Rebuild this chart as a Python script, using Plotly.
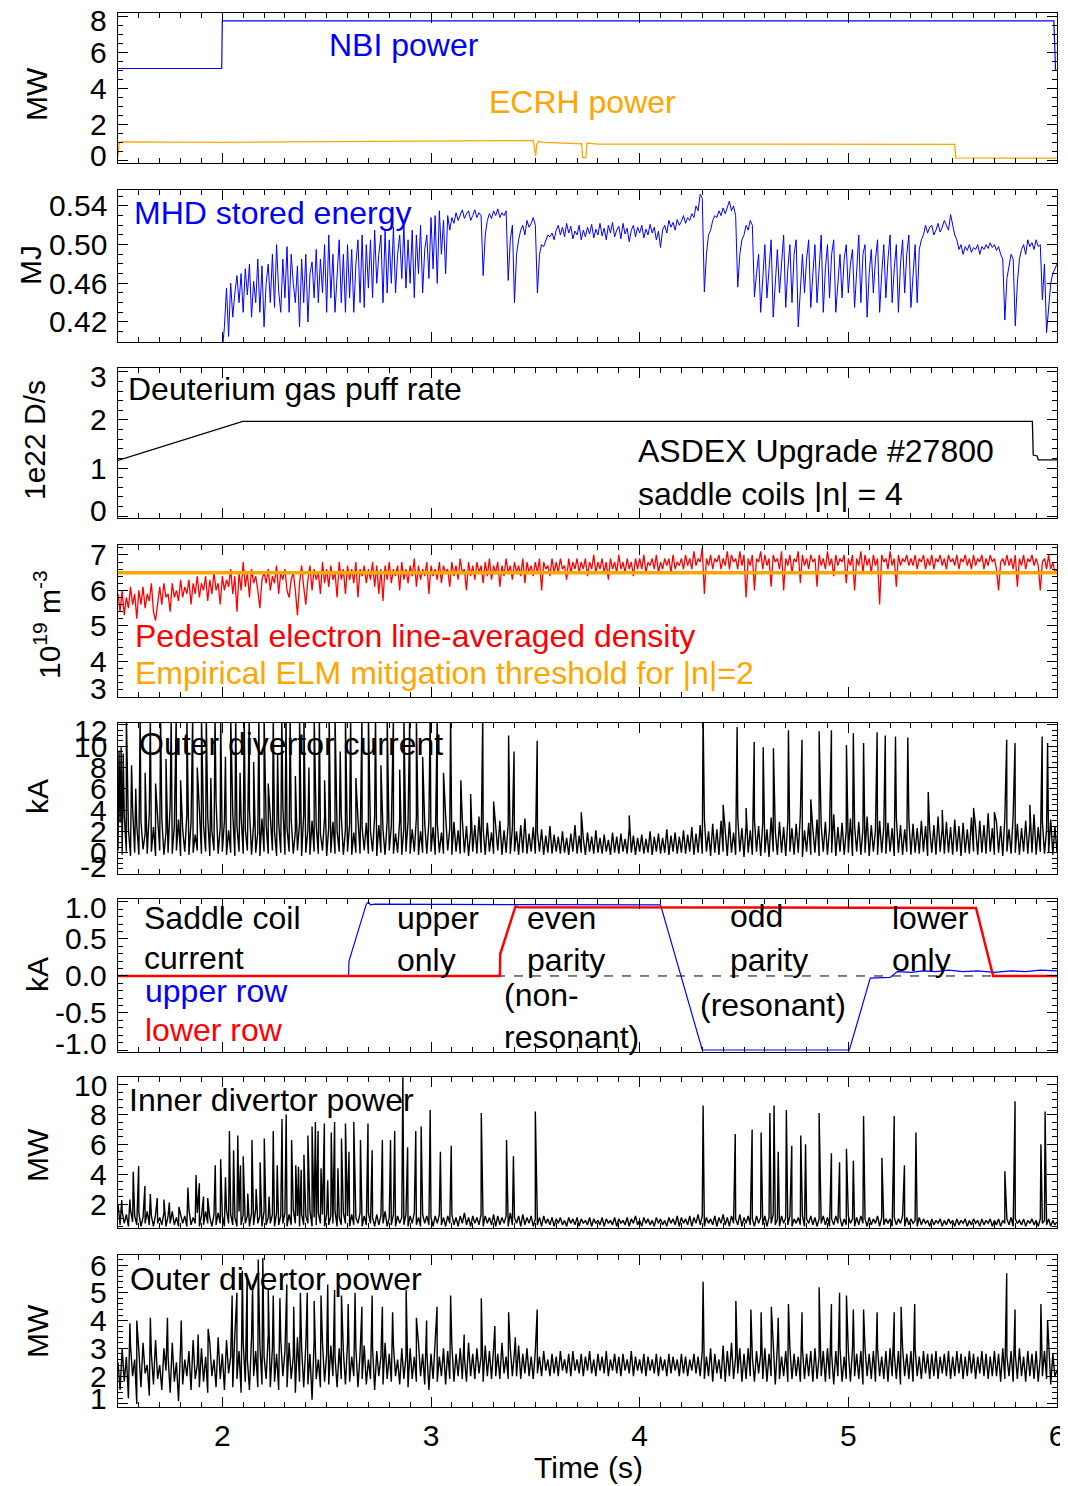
import numpy as np
import plotly.graph_objects as go

FONT = "Liberation Sans, Arial, Helvetica, sans-serif"
T0, DT = 1.5, 0.01   # sampling of the digitised noisy signals (s)

# ---------------- panel 1: heating power (MW) ----------------
NBI_T = [1.5, 1.997, 2.0, 5.985, 5.993, 6.0]
NBI_V = [5.1, 5.1, 7.75, 7.75, 5.0, 5.0]
EC_T = [1.5, 1.505, 1.51, 2.0, 2.5, 3.0, 3.49, 3.502, 3.506, 3.515, 3.54, 3.70, 3.722, 3.727, 3.742, 3.748, 3.80, 4.5, 5.0, 5.51, 5.515, 6.0]
EC_V = [0.2, 0.9, 1.02, 1.0, 1.04, 1.08, 1.1, 0.25, 0.85, 1.05, 1.0, 0.93, 0.92, 0.15, 0.15, 0.96, 0.9, 0.9, 0.89, 0.88, 0.13, 0.12]

# ---------------- panel 2: MHD stored energy (MJ), one row = 0.1 s ----------------
W_MHD = [
    0.37, 0.37, 0.37, 0.37, 0.37, 0.37, 0.37, 0.37, 0.37, 0.37,   # 1.5
    0.37, 0.37, 0.37, 0.37, 0.37, 0.37, 0.37, 0.37, 0.37, 0.37,   # 1.6
    0.37, 0.37, 0.37, 0.37, 0.37, 0.37, 0.37, 0.37, 0.37, 0.37,   # 1.7
    0.37, 0.37, 0.37, 0.37, 0.37, 0.37, 0.37, 0.37, 0.37, 0.37,   # 1.8
    0.37, 0.37, 0.37, 0.37, 0.37, 0.38, 0.38, 0.38, 0.38, 0.38,   # 1.9
    0.39, 0.415, 0.455, 0.405, 0.46, 0.425, 0.45, 0.468, 0.44, 0.47,    # 2.0
    0.43, 0.475, 0.448, 0.48, 0.425, 0.462, 0.44, 0.485, 0.43, 0.478,   # 2.1
    0.415, 0.46, 0.48, 0.44, 0.49, 0.435, 0.50, 0.452, 0.43, 0.485,     # 2.2
    0.445, 0.498, 0.43, 0.49, 0.46, 0.44, 0.478, 0.415, 0.485, 0.44,    # 2.3
    0.49, 0.42, 0.47, 0.482, 0.445, 0.495, 0.44, 0.485, 0.45, 0.50,     # 2.4
    0.43, 0.51, 0.445, 0.49, 0.43, 0.47, 0.505, 0.44, 0.49, 0.43,       # 2.5
    0.50, 0.445, 0.495, 0.43, 0.48, 0.505, 0.44, 0.51, 0.435, 0.50,     # 2.6
    0.455, 0.505, 0.445, 0.515, 0.46, 0.49, 0.51, 0.44, 0.515, 0.45,    # 2.7
    0.505, 0.46, 0.518, 0.45, 0.49, 0.51, 0.465, 0.52, 0.455, 0.505,    # 2.8
    0.46, 0.515, 0.445, 0.51, 0.47, 0.52, 0.45, 0.495, 0.51, 0.465,     # 2.9
    0.528, 0.475, 0.53, 0.46, 0.535, 0.49, 0.525, 0.47, 0.53, 0.515,    # 3.0
    0.528, 0.522, 0.533, 0.525, 0.53, 0.536, 0.527, 0.532, 0.535, 0.525,  # 3.1
    0.53, 0.536, 0.528, 0.533, 0.53, 0.468, 0.51, 0.525, 0.532, 0.527,    # 3.2
    0.535, 0.53, 0.537, 0.528, 0.533, 0.53, 0.535, 0.463, 0.505, 0.52,    # 3.3
    0.44, 0.49, 0.505, 0.515, 0.52, 0.51, 0.525, 0.518, 0.522, 0.528,     # 3.4
    0.52, 0.45, 0.49, 0.50, 0.498, 0.505, 0.51, 0.508, 0.512, 0.505,      # 3.5
    0.515, 0.52, 0.51, 0.518, 0.508, 0.522, 0.512, 0.519, 0.506, 0.514,   # 3.6
    0.51, 0.52, 0.505, 0.515, 0.508, 0.518, 0.511, 0.521, 0.507, 0.516,   # 3.7
    0.51, 0.522, 0.509, 0.517, 0.505, 0.52, 0.512, 0.523, 0.508, 0.515,   # 3.8
    0.519, 0.506, 0.522, 0.511, 0.517, 0.503, 0.515, 0.52, 0.508, 0.518,  # 3.9
    0.512, 0.52, 0.507, 0.516, 0.51, 0.521, 0.512, 0.518, 0.505, 0.514,   # 4.0
    0.497, 0.515, 0.52, 0.512, 0.525, 0.518, 0.523, 0.515, 0.526, 0.52,   # 4.1
    0.524, 0.53, 0.522, 0.528, 0.525, 0.532, 0.528, 0.54, 0.535, 0.552,   # 4.2
    0.548, 0.451, 0.49, 0.51, 0.515, 0.525, 0.53, 0.528, 0.535, 0.53,     # 4.3
    0.538, 0.532, 0.54, 0.545, 0.535, 0.54, 0.53, 0.456, 0.49, 0.505,     # 4.4
    0.51, 0.52, 0.515, 0.525, 0.52, 0.446, 0.47, 0.49, 0.43, 0.47,        # 4.5
    0.50, 0.445, 0.48, 0.505, 0.425, 0.465, 0.495, 0.45, 0.485, 0.51,     # 4.6
    0.435, 0.475, 0.50, 0.44, 0.49, 0.505, 0.415, 0.46, 0.49, 0.45,       # 4.7
    0.485, 0.505, 0.435, 0.47, 0.50, 0.44, 0.48, 0.51, 0.43, 0.475,      # 4.8
    0.50, 0.445, 0.49, 0.505, 0.43, 0.465, 0.49, 0.445, 0.485, 0.50,      # 4.9
    0.45, 0.48, 0.495, 0.435, 0.475, 0.51, 0.44, 0.49, 0.50, 0.425,       # 5.0
    0.47, 0.495, 0.45, 0.485, 0.505, 0.43, 0.47, 0.50, 0.445, 0.485,      # 5.1
    0.51, 0.44, 0.475, 0.50, 0.43, 0.48, 0.505, 0.45, 0.49, 0.51,         # 5.2
    0.435, 0.47, 0.50, 0.44, 0.495, 0.505, 0.51, 0.52, 0.512, 0.518,      # 5.3
    0.52, 0.51, 0.515, 0.522, 0.513, 0.518, 0.525, 0.52, 0.515, 0.531,    # 5.4
    0.522, 0.51, 0.505, 0.495, 0.50, 0.49, 0.498, 0.494, 0.50, 0.492,     # 5.5
    0.497, 0.495, 0.50, 0.49, 0.498, 0.495, 0.50, 0.496, 0.502, 0.497,    # 5.6
    0.50, 0.494, 0.498, 0.49, 0.485, 0.422, 0.465, 0.48, 0.49, 0.485,     # 5.7
    0.416, 0.46, 0.485, 0.495, 0.50, 0.49, 0.505, 0.498, 0.502, 0.495,    # 5.8
    0.505, 0.498, 0.50, 0.443, 0.48, 0.409, 0.44, 0.46, 0.47, 0.475,      # 5.9
    0.48,
]

# ---------------- panel 3: gas puff (1e22 D/s) ----------------
GAS_T = [1.5, 2.098, 5.882, 5.886, 5.905, 5.91, 6.0]
GAS_V = [1.16, 1.97, 1.97, 1.27, 1.25, 1.17, 1.17]

# ---------------- panel 4: pedestal density (1e19 m^-3) ----------------
NE = [
    5.9, 5.4, 6.0, 5.3, 5.8, 5.5, 6.1, 5.6, 5.9, 5.2,   # 1.5
    6.0, 5.6, 6.1, 5.5, 5.9, 5.7, 6.2, 5.4, 5.15, 5.7,  # 1.6
    6.1, 5.6, 6.2, 5.8, 5.9, 5.4, 6.2, 5.8, 6.0, 5.7,   # 1.7
    6.3, 5.8, 6.1, 5.9, 6.3, 5.6, 6.2, 5.9, 6.4, 5.8,   # 1.8
    6.2, 6.0, 6.4, 5.7, 6.3, 5.9, 6.5, 6.0, 6.2, 5.6,   # 1.9
    6.4, 6.0, 6.3, 6.1, 6.6, 5.9, 6.4, 5.4, 6.5, 6.0,   # 2.0
    6.8, 6.1, 6.5, 5.8, 6.6, 6.2, 6.4, 6.0, 5.5, 6.3,   # 2.1
    6.5, 6.2, 6.6, 6.0, 6.4, 6.2, 6.7, 5.9, 6.5, 6.3,   # 2.2
    6.6, 6.0, 5.8, 6.3, 6.5, 6.0, 5.3, 6.2, 6.7, 6.1,   # 2.3
    5.6, 6.3, 6.7, 6.0, 6.6, 6.3, 6.5, 5.9, 6.8, 6.2,   # 2.4
    6.6, 6.1, 6.7, 6.3, 6.5, 5.8, 6.8, 6.3, 6.6, 5.9,   # 2.5
    6.7, 6.3, 6.6, 6.2, 6.8, 5.8, 6.6, 6.4, 6.7, 6.2,   # 2.6
    6.6, 6.3, 6.8, 6.1, 6.7, 5.9, 6.6, 5.7, 6.7, 6.3,   # 2.7
    6.8, 6.2, 6.6, 6.4, 6.7, 6.0, 6.8, 6.3, 6.6, 6.2,   # 2.8
    6.7, 6.4, 6.9, 6.1, 6.7, 6.3, 6.6, 6.4, 6.8, 5.9,   # 2.9
    6.7, 6.4, 6.6, 6.3, 6.8, 6.2, 6.7, 6.5, 6.6, 6.1,   # 3.0
    6.8, 6.4, 6.7, 6.3, 6.9, 6.5, 6.6, 6.0, 6.8, 6.4,   # 3.1
    6.7, 6.3, 6.8, 6.5, 6.7, 6.2, 6.8, 6.4, 6.9, 6.3,   # 3.2
    6.7, 6.5, 6.8, 6.1, 6.7, 6.4, 6.9, 6.5, 6.7, 6.3,   # 3.3
    6.8, 6.5, 6.7, 6.4, 6.9, 6.2, 6.8, 6.5, 6.7, 6.4,   # 3.4
    6.8, 6.5, 6.9, 6.0, 6.8, 6.6, 6.7, 6.4, 6.9, 6.5,   # 3.5
    6.8, 6.5, 6.9, 6.6, 6.7, 6.3, 6.9, 6.5, 6.8, 6.6,   # 3.6
    6.9, 6.5, 6.8, 6.6, 6.9, 6.4, 6.8, 6.6, 7.0, 6.5,   # 3.7
    6.8, 6.6, 6.9, 6.5, 6.8, 6.3, 6.9, 6.6, 6.8, 6.5,   # 3.8
    7.0, 6.6, 6.8, 6.5, 6.9, 6.6, 6.8, 6.4, 6.9, 6.6,   # 3.9
    6.9, 6.6, 7.0, 6.5, 6.8, 6.7, 6.9, 6.6, 7.0, 6.5,   # 4.0
    6.8, 6.6, 6.9, 6.7, 6.9, 6.5, 7.0, 6.6, 6.8, 6.7,   # 4.1
    6.9, 6.6, 7.0, 6.7, 6.9, 6.6, 7.1, 6.7, 6.9, 6.8,   # 4.2
    7.2, 5.9, 6.9, 6.7, 7.0, 6.6, 6.9, 6.8, 7.0, 6.6,   # 4.3
    6.9, 6.7, 7.1, 6.6, 7.0, 6.8, 6.9, 6.6, 7.1, 6.7,   # 4.4
    7.0, 5.8, 6.9, 6.7, 7.0, 6.0, 6.9, 6.8, 7.1, 6.6,   # 4.5
    7.0, 6.7, 6.9, 6.1, 7.0, 6.8, 6.9, 6.6, 7.1, 6.0,   # 4.6
    6.9, 6.7, 7.0, 6.5, 6.9, 6.8, 7.1, 6.2, 7.0, 6.7,   # 4.7
    6.9, 6.6, 7.0, 6.8, 6.9, 6.1, 7.0, 6.7, 6.9, 6.6,   # 4.8
    7.1, 6.7, 6.9, 6.4, 7.0, 6.7, 6.9, 6.8, 7.0, 6.2,   # 4.9
    6.9, 6.7, 7.0, 6.0, 6.9, 6.7, 7.1, 6.5, 7.0, 6.7,   # 5.0
    6.9, 6.5, 7.0, 6.7, 6.9, 5.6, 7.0, 6.8, 6.9, 6.6,   # 5.1
    7.1, 6.7, 6.9, 6.1, 7.0, 6.7, 6.9, 6.8, 7.0, 6.7,   # 5.2
    6.9, 6.7, 7.0, 6.6, 6.9, 6.8, 7.0, 6.6, 6.9, 6.7,   # 5.3
    7.0, 6.6, 6.9, 6.8, 7.0, 6.7, 6.9, 6.6, 7.0, 6.8,   # 5.4
    6.9, 6.7, 7.0, 6.6, 6.9, 6.8, 7.0, 6.7, 6.9, 6.6,   # 5.5
    7.0, 6.7, 6.9, 6.8, 7.0, 6.6, 6.9, 6.7, 7.0, 6.8,   # 5.6
    6.9, 6.6, 6.0, 6.8, 6.9, 6.7, 7.0, 6.7, 6.9, 6.6,   # 5.7
    7.0, 6.1, 6.9, 6.7, 7.0, 6.6, 6.9, 6.8, 7.0, 6.7,   # 5.8
    6.9, 6.7, 6.0, 6.8, 6.9, 6.6, 7.0, 6.6, 6.8, 6.5,   # 5.9
    6.6,
]
TH_T = [1.5, 6.0]
TH_V = [6.5, 6.5]

# ---------------- panel 5: outer divertor current (kA) ----------------
CUR = [
    0.2, 2.8, -0.2, 3.5, 0.1, 2.2, -0.3, 4.2, 0.0, 2.6,   # 1.5
    -0.2, 3.0, 0.3, 1.8, -0.1, 3.8, 0.1, 2.4, -0.3, 2.9,  # 1.6
    0.2, 3.2, -0.2, 1.9, 0.0, 4.5, -0.1, 2.5, 0.2, 3.1,   # 1.7
    -0.3, 2.2, 0.1, 3.6, -0.2, 2.8, 0.0, 1.7, 0.2, 4.0,   # 1.8
    -0.1, 2.6, 0.1, 3.3, -0.3, 2.0, 0.2, 4.8, -0.1, 2.4,  # 1.9
    0.1, 3.0, -0.2, 2.1, 0.0, 3.7, -0.3, 2.5, 0.1, 3.4,   # 2.0
    -0.1, 2.2, 0.2, 4.1, -0.2, 2.7, 0.0, 1.9, -0.3, 3.2,  # 2.1
    0.1, 2.6, -0.1, 3.5, 0.2, 2.0, -0.3, 2.9, 0.0, 4.4,   # 2.2
    -0.2, 2.3, 0.1, 3.1, -0.1, 2.0, 0.2, 2.8, -0.3, 3.6,  # 2.3
    0.0, 2.1, -0.2, 3.0, 0.1, 2.5, -0.1, 1.8, 0.2, 3.3,   # 2.4
    -0.3, 2.4, 0.0, 2.9, -0.1, 2.0, 0.1, 3.5, -0.2, 2.2,  # 2.5
    0.1, 2.7, -0.2, 1.9, 0.0, 3.2, -0.1, 2.4, 0.2, 2.8,   # 2.6
    -0.1, 2.0, 0.1, 3.4, -0.3, 2.6, 0.0, 2.1, -0.2, 3.0,  # 2.7
    0.2, 2.5, -0.1, 1.8, 0.0, 3.1, -0.2, 2.3, 0.1, 2.9,   # 2.8
    -0.1, 2.2, 0.1, 3.3, -0.2, 2.0, 0.0, 2.7, -0.1, 3.0,  # 2.9
    0.1, 2.4, -0.2, 2.8, 0.0, 1.9, -0.1, 3.5, 0.2, 2.3,   # 3.0
    -0.2, 2.9, 0.1, 2.1, -0.1, 3.1, 0.0, 2.5, -0.3, 2.0,  # 3.1
    0.1, 2.6, -0.1, 3.4, 0.0, 2.2, -0.2, 2.8, 0.1, 1.9,   # 3.2
    -0.1, 2.4, 0.2, 3.0, -0.2, 2.1, 0.0, 2.7, -0.1, 2.3,  # 3.3
    0.1, 2.0, -0.2, 2.6, 0.0, 3.2, -0.1, 1.8, 0.1, 2.4,   # 3.4
    -0.1, 1.9, 0.1, 2.2, -0.2, 1.6, 0.0, 2.5, -0.1, 1.7,  # 3.5
    0.1, 1.5, -0.1, 2.0, 0.0, 1.4, -0.2, 1.8, 0.1, 2.6,   # 3.6
    -0.1, 1.6, 0.0, 1.3, -0.2, 1.9, 0.1, 1.5, -0.1, 2.1,  # 3.7
    0.0, 1.4, -0.1, 1.7, 0.1, 1.2, -0.2, 1.9, 0.0, 1.5,   # 3.8
    -0.1, 1.8, 0.1, 1.3, -0.1, 2.3, 0.0, 1.6, -0.2, 1.4,  # 3.9
    0.1, 1.7, -0.1, 1.3, 0.0, 2.0, -0.2, 1.5, 0.1, 1.8,   # 4.0
    -0.1, 1.4, 0.0, 2.2, -0.2, 1.6, 0.1, 1.9, -0.1, 1.5,  # 4.1
    0.0, 2.1, -0.1, 1.7, 0.1, 2.4, -0.2, 1.8, 0.0, 2.6,   # 4.2
    -0.1, 3.2, 0.1, 2.0, -0.3, 2.7, 0.0, 2.2, -0.2, 3.0,  # 4.3
    0.1, 2.4, -0.3, 2.9, 0.0, 1.9, -0.2, 3.4, 0.1, 2.3,   # 4.4
    -0.4, 2.6, 0.0, 2.1, -0.2, 3.1, 0.1, 2.5, -0.3, 2.8,  # 4.5
    0.0, 2.2, -0.4, 3.3, 0.1, 2.0, -0.2, 2.9, 0.0, 2.4,   # 4.6
    -0.3, 3.0, 0.1, 2.3, -0.2, 2.7, 0.0, 3.5, -0.4, 2.1,  # 4.7
    0.1, 2.8, -0.2, 2.2, 0.0, 3.1, -0.3, 2.5, 0.1, 2.9,   # 4.8
    -0.2, 2.3, 0.0, 3.6, -0.3, 2.4, 0.1, 2.8, -0.2, 2.1,  # 4.9
    0.0, 3.2, -0.3, 2.5, 0.1, 2.9, -0.2, 2.2, 0.0, 3.4,   # 5.0
    -0.3, 2.6, 0.1, 2.1, -0.2, 3.0, 0.0, 2.4, -0.1, 2.8,  # 5.1
    0.1, 2.3, -0.3, 3.3, 0.0, 2.6, -0.2, 2.2, 0.1, 3.1,   # 5.2
    -0.2, 2.7, 0.0, 2.3, -0.1, 3.0, 0.1, 2.5, -0.3, 2.2,  # 5.3
    0.0, 2.6, -0.2, 3.4, 0.1, 2.3, -0.1, 2.9, 0.0, 2.4,   # 5.4
    -0.2, 3.1, 0.1, 2.5, -0.3, 2.8, 0.0, 2.2, -0.1, 3.3,  # 5.5
    0.1, 2.4, -0.2, 3.0, 0.0, 2.6, -0.1, 3.7, 0.1, 2.3,   # 5.6
    -0.2, 2.9, 0.0, 2.5, -0.3, 3.2, 0.1, 2.2, -0.1, 3.5,  # 5.7
    0.0, 2.7, -0.2, 2.3, 0.1, 3.0, -0.1, 2.6, 0.0, 3.6,   # 5.8
    -0.2, 2.4, 0.1, 2.9, -0.1, 2.2, 0.0, 3.1, -0.2, 2.5,  # 5.9
    0.0,
]
CUR_SPIKE_T = [1.505, 1.515, 1.525, 1.54, 1.565, 1.585, 1.606, 1.63, 1.655, 1.68,
               1.704, 1.73, 1.755, 1.779, 1.80, 1.83, 1.858, 1.88, 1.90, 1.923,
               1.945, 1.965, 1.992, 2.015, 2.04, 2.064, 2.085, 2.105, 2.129, 2.15,
               2.175, 2.20, 2.22, 2.244, 2.265, 2.285, 2.305, 2.325, 2.35, 2.37,
               2.391, 2.415, 2.44, 2.465, 2.49, 2.512, 2.54, 2.565, 2.59, 2.615,
               2.64, 2.669, 2.70, 2.734, 2.76, 2.79, 2.82, 2.85, 2.87, 2.898,
               2.93, 2.96, 2.996, 3.03, 3.06, 3.094, 3.143, 3.19, 3.248, 3.30,
               3.372, 3.398, 3.509, 3.72, 3.95, 4.304, 4.40, 4.467, 4.51, 4.549,
               4.592, 4.641, 4.713, 4.778, 4.82, 4.86, 4.919, 4.991, 5.024, 5.073,
               5.138, 5.177, 5.226, 5.285, 5.383, 5.45, 5.60, 5.70, 5.759, 5.799,
               5.87, 5.929, 5.955]
CUR_SPIKE_V = [9.6, 9.9, 9.3, 13, 8.2, 6, 13, 7.5, 13, 6.5,
               13, 8.8, 13, 13, 6.8, 13, 13, 8, 13, 13,
               7, 13, 13, 9, 13, 13, 7.5, 13, 13, 8.5,
               13, 13, 6.5, 13, 9.2, 13, 13, 13, 7.2, 13,
               13, 8, 13, 13, 6.8, 13, 13, 9.5, 13, 13,
               7, 13, 13, 13, 8.2, 13, 13, 7.8, 13, 13,
               13, 9, 13, 13, 7.5, 13, 6.8, 5.5, 13, 4.8,
               11.0, 9.5, 10.5, 3.8, 3.5, 13, 4.5, 11.8, 4.2, 10.4,
               9.9, 9.8, 11.5, 10.6, 5.0, 11.4, 11.5, 10.1, 11.2, 10.3,
               11.3, 11.0, 10.9, 10.8, 5.7, 4.0, 4.2, 3.8, 10.6, 10.3,
               4.5, 10.9, 10.3]

# ---------------- panel 6: saddle coil current (kA) ----------------
UP_T = [1.5, 2.605, 2.607, 2.69, 2.70, 2.71, 2.73, 3.5, 4.10, 4.30,
        4.31, 5.005, 5.105, 5.20, 5.235, 5.30, 5.36, 5.42, 5.48, 5.55,
        5.62, 5.70, 5.78, 5.85, 5.92, 6.0]
UP_V = [0, 0, 0.2, 0.97, 1.0, 0.96, 0.97, 0.96, 0.96, -1.0,
        -1.0, -1.0, -0.03, -0.02, 0.06, 0.05, 0.07, 0.06, 0.08, 0.06,
        0.07, 0.05, 0.07, 0.06, 0.08, 0.07]
LO_T = [1.5, 3.33, 3.332, 3.405, 3.42, 4.10, 4.15, 5.612, 5.694, 6.0]
LO_V = [0, 0, 0.3, 0.94, 0.93, 0.93, 0.92, 0.92, 0.0, 0.0]
ZERO_T = [1.5, 6.0]
ZERO_V = [0.0, 0.0]

# ---------------- panel 7: inner divertor power (MW) ----------------
PIN = [
    2.0, 0.6, 1.5, 0.7, 1.3, 0.5, 1.6, 0.8, 1.2, 0.6,   # 1.5
    1.4, 0.5, 1.1, 0.7, 1.5, 0.6, 1.2, 0.5, 1.3, 0.7,   # 1.6
    1.1, 0.6, 1.4, 0.5, 1.2, 0.7, 1.5, 0.6, 1.1, 0.5,   # 1.7
    1.3, 0.7, 1.2, 0.5, 1.6, 0.6, 1.1, 0.7, 1.4, 0.5,   # 1.8
    1.2, 0.6, 1.5, 0.7, 1.1, 0.5, 1.3, 0.6, 1.4, 0.7,   # 1.9
    1.2, 0.5, 1.6, 0.7, 1.3, 0.6, 1.1, 0.5, 1.5, 0.6,   # 2.0
    1.3, 0.7, 1.2, 0.5, 1.4, 0.6, 1.7, 0.7, 1.2, 0.5,   # 2.1
    1.5, 0.6, 1.1, 0.7, 1.3, 0.5, 1.4, 0.6, 1.2, 0.7,   # 2.2
    1.4, 0.5, 1.3, 0.6, 1.6, 0.7, 1.2, 0.5, 1.3, 0.6,   # 2.3
    1.2, 0.7, 1.5, 0.5, 1.1, 0.6, 1.4, 0.7, 1.3, 0.5,   # 2.4
    1.3, 0.6, 1.2, 0.7, 1.5, 0.5, 1.1, 0.6, 1.4, 0.7,   # 2.5
    1.2, 0.5, 1.3, 0.6, 1.1, 0.7, 1.4, 0.5, 1.2, 0.6,   # 2.6
    1.4, 0.7, 1.1, 0.5, 1.3, 0.6, 1.2, 0.7, 1.5, 0.5,   # 2.7
    1.1, 0.6, 1.3, 0.5, 1.2, 0.7, 1.1, 0.6, 1.3, 0.5,   # 2.8
    1.2, 0.7, 1.4, 0.6, 1.1, 0.5, 1.3, 0.7, 1.2, 0.6,   # 2.9
    1.1, 0.5, 1.2, 0.7, 1.3, 0.6, 1.1, 0.5, 1.2, 0.7,   # 3.0
    1.3, 0.6, 1.1, 0.5, 1.2, 0.7, 1.4, 0.6, 1.1, 0.5,   # 3.1
    1.2, 0.7, 1.1, 0.6, 1.3, 0.5, 1.2, 0.7, 1.1, 0.6,   # 3.2
    1.3, 0.5, 1.2, 0.6, 1.1, 0.7, 1.2, 0.5, 1.4, 0.6,   # 3.3
    1.1, 0.7, 1.2, 0.5, 1.3, 0.6, 1.1, 0.7, 1.2, 0.5,   # 3.4
    1.0, 0.6, 1.1, 0.5, 1.2, 0.7, 1.0, 0.6, 1.1, 0.5,   # 3.5
    1.0, 0.7, 1.1, 0.6, 0.9, 0.5, 1.1, 0.7, 1.0, 0.6,   # 3.6
    1.1, 0.5, 1.0, 0.7, 0.9, 0.6, 1.1, 0.5, 1.0, 0.7,   # 3.7
    0.9, 0.6, 1.1, 0.5, 1.0, 0.7, 0.9, 0.6, 1.1, 0.5,   # 3.8
    1.0, 0.7, 0.9, 0.6, 1.1, 0.5, 1.0, 0.7, 1.2, 0.6,   # 3.9
    0.9, 0.5, 1.1, 0.7, 1.0, 0.6, 0.9, 0.5, 1.1, 0.7,   # 4.0
    1.0, 0.6, 0.9, 0.5, 1.1, 0.7, 1.0, 0.6, 1.2, 0.5,   # 4.1
    1.1, 0.7, 1.0, 0.6, 1.2, 0.5, 1.1, 0.7, 1.3, 0.6,   # 4.2
    1.2, 0.5, 1.1, 0.7, 1.0, 0.6, 1.2, 0.5, 1.1, 0.7,   # 4.3
    1.3, 0.6, 1.1, 0.5, 1.2, 0.7, 1.0, 0.6, 1.3, 0.5,   # 4.4
    1.1, 0.7, 1.2, 0.6, 1.0, 0.5, 1.2, 0.7, 1.1, 0.6,   # 4.5
    1.2, 0.5, 1.1, 0.7, 1.3, 0.6, 1.0, 0.5, 1.2, 0.7,   # 4.6
    1.1, 0.6, 1.2, 0.5, 1.0, 0.7, 1.1, 0.6, 1.2, 0.5,   # 4.7
    1.0, 0.7, 1.2, 0.6, 1.1, 0.5, 1.0, 0.7, 1.2, 0.6,   # 4.8
    1.1, 0.5, 1.0, 0.6, 1.2, 0.7, 1.1, 0.5, 1.0, 0.6,   # 4.9
    1.2, 0.7, 1.0, 0.5, 1.1, 0.6, 1.2, 0.7, 1.0, 0.5,   # 5.0
    1.1, 0.6, 1.0, 0.7, 1.2, 0.5, 1.1, 0.6, 1.0, 0.7,   # 5.1
    1.0, 0.5, 1.1, 0.6, 1.0, 0.7, 1.2, 0.5, 1.1, 0.6,   # 5.2
    1.0, 0.7, 0.9, 0.5, 1.1, 0.6, 1.0, 0.7, 0.9, 0.5,   # 5.3
    1.0, 0.6, 0.9, 0.7, 1.0, 0.5, 0.9, 0.6, 1.0, 0.7,   # 5.4
    0.9, 0.5, 1.0, 0.6, 0.9, 0.7, 1.0, 0.5, 0.9, 0.6,   # 5.5
    1.0, 0.7, 0.9, 0.5, 1.0, 0.6, 0.9, 0.7, 1.0, 0.5,   # 5.6
    0.9, 0.6, 1.0, 0.5, 0.9, 0.7, 1.0, 0.6, 1.1, 0.5,   # 5.7
    1.0, 0.7, 0.9, 0.6, 1.0, 0.5, 0.9, 0.7, 1.0, 0.6,   # 5.8
    0.9, 0.5, 1.0, 0.7, 0.9, 0.6, 1.0, 0.5, 0.9, 0.6,   # 5.9
    0.8,
]
PIN_SPIKE_T = [1.518, 1.557, 1.573, 1.599, 1.629, 1.655, 1.688, 1.72, 1.746, 1.792,
               1.835, 1.874, 1.89, 1.91, 1.93, 1.966, 1.992, 2.015, 2.034, 2.054,
               2.074, 2.087, 2.10, 2.122, 2.142, 2.162, 2.181, 2.201, 2.224, 2.244,
               2.263, 2.286, 2.306, 2.332, 2.352, 2.365, 2.378, 2.391, 2.41, 2.43,
               2.446, 2.459, 2.473, 2.489, 2.505, 2.522, 2.538, 2.554, 2.571, 2.59,
               2.607, 2.63, 2.662, 2.698, 2.718, 2.767, 2.806, 2.826, 2.865, 2.888,
               2.927, 2.953, 2.996, 3.045, 3.097, 3.241, 3.362, 3.395, 3.50, 4.304,
               4.458, 4.539, 4.582, 4.624, 4.644, 4.664, 4.703, 4.729, 4.772, 4.795,
               4.86, 4.919, 4.958, 4.991, 5.024, 5.073, 5.161, 5.22, 5.269, 5.324,
               5.75, 5.799, 5.923, 5.943]
PIN_SPIKE_V = [2.27, 2.3, 4.17, 4.55, 3.2, 2.67, 2.4, 2.3, 2.1, 1.8,
               3.1, 3.95, 3.4, 2.5, 2.4, 4.6, 5.0, 3.8, 6.9, 5.6,
               6.6, 4.6, 5.2, 2.7, 6.3, 3.0, 4.8, 6.4, 2.5, 6.9,
               4.6, 7.7, 8.0, 6.3, 4.6, 4.5, 4.3, 5.3, 6.6, 7.2,
               7.5, 6.9, 4.4, 7.4, 3.6, 6.8, 7.5, 4.4, 6.4, 7.4,
               5.5, 7.5, 6.3, 7.4, 5.6, 6.3, 6.3, 6.9, 10.6, 5.8,
               6.9, 7.2, 8.3, 5.5, 5.9, 8.1, 6.3, 5.2, 8.2, 8.6,
               6.7, 7.0, 6.8, 8.1, 8.6, 5.5, 8.3, 5.9, 6.6, 6.0,
               8.1, 5.4, 4.8, 5.7, 4.9, 7.9, 5.1, 7.9, 4.6, 6.8,
               4.2, 8.9, 6.0, 8.2]

# ---------------- panel 8: outer divertor power (MW) ----------------
POUT = [
    2.5, 1.5, 3.0, 1.8, 2.7, 1.2, 3.1, 2.0, 2.6, 1.0,   # 1.5
    2.9, 1.6, 3.2, 2.1, 2.4, 1.3, 2.8, 1.7, 3.3, 1.9,   # 1.6
    2.4, 1.5, 3.0, 2.2, 2.7, 1.4, 3.2, 1.8, 2.5, 1.1,   # 1.7
    3.1, 1.7, 2.6, 2.0, 2.9, 1.5, 3.3, 1.9, 2.4, 1.6,   # 1.8
    3.0, 1.8, 2.7, 1.4, 3.2, 2.0, 2.6, 1.6, 3.4, 1.9,   # 1.9
    2.8, 1.5, 3.3, 2.1, 2.7, 1.6, 3.5, 1.9, 2.9, 1.4,   # 2.0
    3.2, 1.8, 2.6, 1.5, 3.4, 2.0, 2.9, 1.6, 3.1, 1.7,   # 2.1
    2.7, 1.9, 3.5, 1.6, 3.0, 1.8, 2.8, 1.5, 3.3, 2.0,   # 2.2
    2.9, 1.6, 3.2, 1.9, 2.7, 1.4, 3.4, 1.8, 3.0, 1.6,   # 2.3
    3.1, 1.7, 2.8, 1.15, 3.3, 1.9, 2.6, 1.6, 3.2, 1.8,  # 2.4
    2.8, 1.7, 3.1, 2.0, 2.7, 1.6, 3.0, 1.9, 2.9, 1.7,   # 2.5
    3.2, 1.8, 2.7, 2.0, 3.0, 1.6, 2.8, 1.9, 3.1, 1.7,   # 2.6
    2.6, 1.9, 3.0, 1.5, 2.9, 2.0, 2.7, 1.7, 3.2, 1.9,   # 2.7
    2.8, 1.8, 3.1, 2.0, 2.6, 1.7, 3.0, 1.9, 2.7, 1.6,   # 2.8
    3.0, 1.9, 2.7, 1.8, 3.2, 2.0, 2.8, 1.7, 2.9, 1.5,   # 2.9
    2.8, 1.9, 3.1, 1.8, 2.7, 2.0, 3.0, 1.7, 2.9, 1.9,   # 3.0
    3.1, 1.8, 2.8, 2.0, 3.0, 1.9, 2.7, 1.8, 3.2, 2.0,   # 3.1
    2.8, 1.9, 3.0, 2.1, 2.7, 1.8, 3.1, 2.0, 2.9, 1.9,   # 3.2
    3.0, 2.0, 2.8, 1.9, 3.2, 2.1, 2.7, 1.9, 3.0, 2.0,   # 3.3
    2.9, 2.0, 3.1, 1.9, 2.8, 2.1, 3.0, 2.0, 2.7, 1.9,   # 3.4
    2.9, 2.1, 2.7, 2.0, 2.9, 2.2, 2.6, 2.0, 2.8, 2.1,   # 3.5
    2.7, 2.0, 2.9, 2.2, 2.6, 2.1, 2.8, 2.0, 2.9, 2.2,   # 3.6
    2.6, 2.1, 2.8, 2.0, 2.7, 2.2, 2.9, 2.1, 2.6, 2.0,   # 3.7
    2.8, 2.2, 2.7, 2.1, 2.9, 2.0, 2.6, 2.2, 2.8, 2.1,   # 3.8
    2.7, 2.0, 2.8, 2.2, 2.6, 2.1, 2.9, 2.0, 2.7, 2.2,   # 3.9
    2.6, 2.1, 2.8, 2.0, 2.7, 2.2, 2.6, 2.1, 2.8, 2.0,   # 4.0
    2.7, 2.2, 2.6, 2.0, 2.8, 2.1, 2.7, 2.2, 2.6, 2.0,   # 4.1
    2.8, 2.1, 2.7, 2.0, 2.6, 2.2, 2.8, 2.1, 2.7, 2.0,   # 4.2
    2.9, 1.9, 2.7, 2.0, 3.0, 1.8, 2.8, 2.1, 2.6, 1.9,   # 4.3
    3.1, 1.8, 2.9, 2.0, 3.2, 1.9, 2.7, 2.1, 3.0, 1.8,   # 4.4
    2.8, 1.9, 3.0, 2.0, 2.7, 1.8, 2.9, 2.1, 2.8, 1.9,   # 4.5
    3.0, 1.8, 2.8, 2.0, 2.9, 1.7, 3.1, 1.9, 2.7, 2.0,   # 4.6
    2.9, 1.8, 3.0, 1.9, 2.8, 2.0, 2.7, 1.8, 3.0, 1.9,   # 4.7
    2.8, 2.0, 2.9, 1.8, 3.0, 1.9, 2.7, 2.0, 2.9, 1.8,   # 4.8
    3.0, 1.9, 2.8, 1.7, 2.9, 2.0, 3.0, 1.8, 2.7, 1.9,   # 4.9
    2.9, 1.8, 3.0, 2.0, 2.8, 1.9, 2.9, 1.7, 3.0, 2.0,   # 5.0
    2.8, 1.9, 2.9, 1.8, 3.0, 2.0, 2.7, 1.9, 2.9, 1.8,   # 5.1
    3.0, 2.0, 2.8, 1.9, 2.9, 1.7, 3.0, 2.0, 2.8, 1.9,   # 5.2
    2.9, 1.8, 3.0, 2.0, 2.7, 1.9, 2.9, 2.1, 2.8, 1.9,   # 5.3
    2.8, 2.0, 2.9, 1.9, 2.7, 2.1, 2.8, 2.0, 2.9, 1.9,   # 5.4
    2.7, 2.0, 2.9, 2.1, 2.8, 1.9, 2.7, 2.0, 2.9, 2.1,   # 5.5
    2.8, 1.9, 2.7, 2.1, 2.9, 2.0, 2.8, 1.9, 2.7, 2.0,   # 5.6
    2.9, 2.0, 2.8, 1.8, 3.0, 1.9, 2.7, 2.0, 2.9, 1.8,   # 5.7
    2.8, 1.9, 3.0, 2.0, 2.7, 1.8, 2.9, 2.0, 2.8, 1.9,   # 5.8
    2.9, 1.8, 2.7, 2.0, 2.9, 1.9, 3.0, 1.7, 2.8, 2.0,   # 5.9
    2.2,
]
POUT_SPIKE_T = [1.557, 1.59, 1.655, 1.737, 1.803, 1.884, 1.932, 2.047, 2.07, 2.096,
                2.119, 2.145, 2.172, 2.194, 2.22, 2.244, 2.276, 2.309, 2.342, 2.374,
                2.407, 2.44, 2.473, 2.505, 2.538, 2.571, 2.603, 2.636, 2.669, 2.718,
                2.767, 2.816, 2.881, 2.93, 2.979, 3.029, 3.094, 3.159, 3.241, 3.306,
                3.372, 3.404, 3.509, 4.304, 4.461, 4.533, 4.582, 4.631, 4.664, 4.713,
                4.778, 4.86, 4.919, 4.958, 4.991, 5.024, 5.073, 5.138, 5.22, 5.253,
                5.318, 5.759, 5.799, 5.923, 5.955]
POUT_SPIKE_V = [3.9, 4.0, 4.1, 4.1, 4.0, 3.5, 3.7, 4.9, 5.0, 5.8,
                5.6, 5.3, 6.2, 6.25, 5.1, 4.9, 4.8, 5.3, 4.5, 5.0,
                5.0, 4.7, 4.9, 5.3, 5.1, 4.9, 4.6, 5.0, 4.5, 4.9,
                4.5, 4.3, 5.1, 4.1, 4.0, 4.5, 4.9, 3.5, 4.8, 3.8,
                4.3, 3.4, 4.4, 5.4, 4.7, 4.4, 4.3, 4.5, 4.1, 4.6,
                4.3, 5.2, 4.6, 5.0, 4.9, 4.4, 4.4, 4.3, 4.3, 4.5,
                4.6, 5.7, 4.4, 4.6, 4.0]

# ---------------- axes: ranges and tick labels ----------------
Y_RANGES = [[-0.15, 8.2], [0.3993, 0.5565], [-0.04, 3.08], [3.0, 7.28],
            [-2.0, 12.2], [-1.023, 1.036], [0.37, 10.5], [0.9, 6.36]]
Y_TICKVALS = [[0, 2, 4, 6, 8], [0.42, 0.46, 0.50, 0.54], [0, 1, 2, 3], [3, 4, 5, 6, 7],
              [-2, 0, 2, 4, 6, 8, 10, 12], [-1.0, -0.5, 0.0, 0.5, 1.0], [2, 4, 6, 8, 10],
              [1, 2, 3, 4, 5, 6]]
Y_TICKTEXT = [["0", "2", "4", "6", "8"], ["0.42", "0.46", "0.50", "0.54"], ["0", "1", "2", "3"],
              ["3", "4", "5", "6", "7"], ["-2", "0", "2", "4", "6", "8", "10", "12"],
              ["-1.0", "-0.5", "0.0", "0.5", "1.0"], ["2", "4", "6", "8", "10"],
              ["1", "2", "3", "4", "5", "6"]]
Y_MINOR = [0.5, 0.01, 0.2, 0.2, 0.5, 0.1, 0.5, 0.2]
Y_TITLES = ["MW", "MJ", "1e22 D/s", "10<sup>19</sup> m<sup>-3</sup>", "kA", "kA", "MW", "MW"]
X_TICKVALS = [2, 3, 4, 5, 6]

# ---------------- layout geometry (page pixels) ----------------
PAGE_W, PAGE_H = 1068, 1486
BODY = 8                     # the page places the figure 8 px in from the top-left corner
AREA_L, AREA_R, AREA_T, AREA_B = 118, 1057, 12, 1407
PANEL_TOP = [12.7, 190, 368, 545, 722.7, 899.3, 1077.3, 1255]
PANEL_BOT = [163, 342, 518, 696.7, 874, 1051.7, 1228.3, 1406.7]
TITLE_POS = [(37, 94), (31, 265), (34, 440), (47, 625), (37, 797), (37, 975), (37, 1155), (37, 1331)]

FIG_W, FIG_H = PAGE_W - BODY, PAGE_H - BODY
ML, MT = AREA_L - BODY, AREA_T - BODY
MR, MB = FIG_W + BODY - AREA_R, FIG_H + BODY - AREA_B
PW, PH = AREA_R - AREA_L, AREA_B - AREA_T


def px(xp):
    return (xp - AREA_L) / PW


def py(yp):
    return (AREA_B - yp) / PH


def grid(vals):
    return T0 + DT * np.arange(len(vals))


def merge(vals, st, sv):
    t = grid(vals)
    x = np.concatenate([t, np.asarray(st, float)])
    y = np.concatenate([np.asarray(vals, float), np.asarray(sv, float)])
    o = np.argsort(x, kind="stable")
    return x[o], y[o]


BLUE, RED, ORANGE, BLACK = "#0000FF", "#FF0000", "#FFA500", "#000000"

fig = go.Figure()


def add(i, x, y, color, width=1.0, dash=None):
    k = "" if i == 1 else str(i)
    fig.add_trace(go.Scatter(x=x, y=y, mode="lines", xaxis="x" + k, yaxis="y" + k,
                             line=dict(color=color, width=width, dash=dash),
                             hoverinfo="skip", showlegend=False))


add(1, NBI_T, NBI_V, BLUE, 1.2)
add(1, EC_T, EC_V, ORANGE, 1.3)
add(2, grid(W_MHD), W_MHD, BLUE, 1.0)
add(3, GAS_T, GAS_V, BLACK, 1.3)
add(4, grid(NE), NE, RED, 1.3)
add(4, TH_T, TH_V, ORANGE, 3.5)
cx, cy = merge(CUR, CUR_SPIKE_T, CUR_SPIKE_V)
add(5, cx, cy, BLACK, 1.4)
add(6, ZERO_T, ZERO_V, BLACK, 1.0, "dash")
add(6, UP_T, UP_V, BLUE, 1.2)
add(6, LO_T, LO_V, RED, 2.5)
ix, iy = merge(PIN, PIN_SPIKE_T, PIN_SPIKE_V)
add(7, ix, iy, BLACK, 1.4)
ox, oy = merge(POUT, POUT_SPIKE_T, POUT_SPIKE_V)
add(8, ox, oy, BLACK, 1.4)

layout = dict(width=FIG_W, height=FIG_H, margin=dict(l=ML, r=MR, t=MT, b=MB, autoexpand=False),
              paper_bgcolor="white", plot_bgcolor="white", showlegend=False,
              font=dict(family=FONT, size=30, color="black"))

annotations = []
for i in range(8):
    k = "" if i == 0 else str(i + 1)
    layout["xaxis" + k] = dict(
        domain=[0, 1], anchor="y" + k, range=[1.5, 6.0], automargin=False,
        tickmode="array", tickvals=X_TICKVALS,
        ticks="inside", ticklen=10, tickwidth=1, tickcolor="black",
        showline=True, linecolor="black", linewidth=1, mirror="allticks",
        showgrid=False, zeroline=False, showticklabels=(i == 7), ticklabeloverflow="allow",
        tickfont=dict(family=FONT, size=30, color="black"), ticklabelstandoff=2,
        minor=dict(ticks="inside", ticklen=5, dtick=0.1, tick0=0, tickcolor="black", showgrid=False))
    lo, hi = Y_RANGES[i]
    layout["yaxis" + k] = dict(
        domain=[py(PANEL_BOT[i]), py(PANEL_TOP[i])], anchor="x" + k, range=[lo, hi], automargin=False,
        tickmode="array", tickvals=Y_TICKVALS[i],
        ticks="inside", ticklen=10, tickwidth=1, tickcolor="black",
        showline=True, linecolor="black", linewidth=1, mirror="allticks",
        showgrid=False, zeroline=False, showticklabels=False,
        minor=dict(ticks="inside", ticklen=5, dtick=Y_MINOR[i], tick0=Y_TICKVALS[i][0],
                   tickcolor="black", showgrid=False))
    # tick labels kept inside the panel's vertical extent (as in the original)
    ppu = (PANEL_BOT[i] - PANEL_TOP[i]) / (hi - lo)
    pad = 8.0 / ppu
    for v, s in zip(Y_TICKVALS[i], Y_TICKTEXT[i]):
        yv = min(max(v, lo + pad), hi - pad)
        annotations.append(dict(x=0, xref="paper", y=yv, yref="y" + k, text=s,
                                xanchor="right", yanchor="middle", xshift=-9,
                                showarrow=False, font=dict(family=FONT, size=30, color="black")))
    tx, ty = TITLE_POS[i]
    annotations.append(dict(x=px(tx), xref="paper", y=py(ty), yref="paper", text=Y_TITLES[i],
                            textangle=-90, xanchor="center", yanchor="middle", showarrow=False,
                            font=dict(family=FONT, size=30, color="black")))

LABELS = [
    ("NBI power", 327, 45, BLUE), ("ECRH power", 487, 102, ORANGE),
    ("MHD stored energy", 132, 213, BLUE), ("Deuterium gas puff rate", 126, 389, BLACK),
    ("ASDEX Upgrade #27800", 636, 451, BLACK), ("saddle coils |n| = 4", 636, 494, BLACK),
    ("Pedestal electron line-averaged density", 133, 636, RED),
    ("Empirical ELM mitigation threshold for |n|=2", 133, 673, ORANGE),
    ("Outer divertor current", 137, 744, BLACK),
    ("Saddle coil", 142, 918, BLACK), ("current", 142, 958, BLACK),
    ("upper row", 143, 991, BLUE), ("lower row", 143, 1030, RED),
    ("upper", 395, 918, BLACK), ("only", 395, 960, BLACK),
    ("even", 525, 918, BLACK), ("parity", 525, 960, BLACK),
    ("(non-", 502, 995, BLACK), ("resonant)", 502, 1037, BLACK),
    ("odd", 728, 916, BLACK), ("parity", 728, 960, BLACK), ("(resonant)", 698, 1005, BLACK),
    ("lower", 890, 918, BLACK), ("only", 890, 960, BLACK),
    ("Inner divertor power", 127, 1100, BLACK), ("Outer divertor power", 128, 1279, BLACK),
]
for text, lx, ly, col in LABELS:
    annotations.append(dict(x=px(lx), xref="paper", y=py(ly), yref="paper", text=text,
                            xanchor="left", yanchor="middle", showarrow=False,
                            font=dict(family=FONT, size=32, color=col)))

annotations.append(dict(x=px(588), xref="paper", y=py(1467), yref="paper", text="Time (s)",
                        xanchor="center", yanchor="middle", showarrow=False,
                        font=dict(family=FONT, size=30, color="black")))

layout["annotations"] = annotations
fig.update_layout(**layout)
fig.write_html("out.html")
